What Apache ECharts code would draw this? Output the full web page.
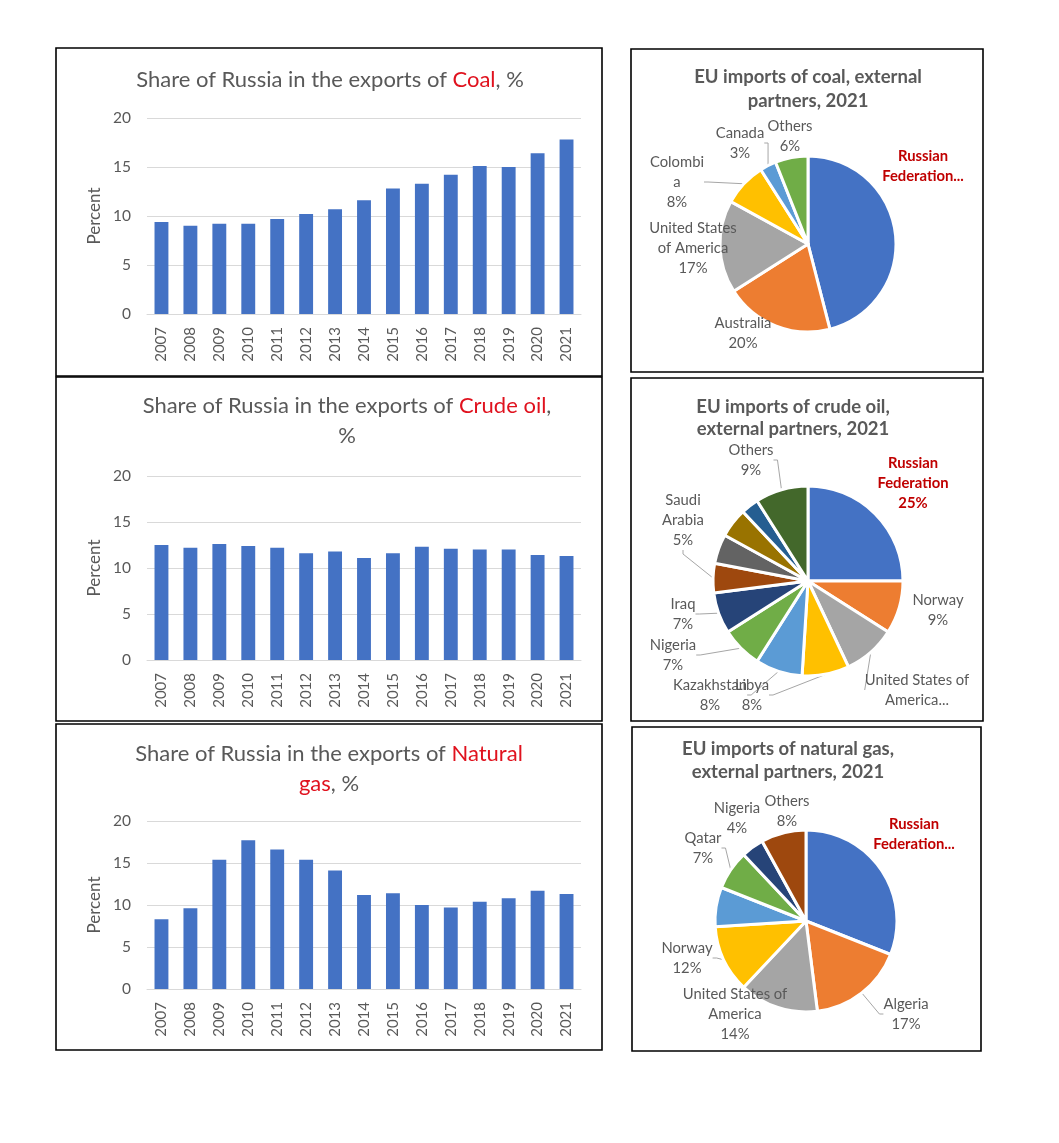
<!DOCTYPE html>
<html><head><meta charset="utf-8">
<script src="https://cdn.jsdelivr.net/npm/echarts@6/dist/echarts.min.js"></script>
<style>html,body{margin:0;padding:0;background:#fff}#c{width:1059px;height:1143px}</style>
</head><body><div id="c"></div>
<script>
// ---------- data ----------
const years = ['2007','2008','2009','2010','2011','2012','2013','2014','2015','2016','2017','2018','2019','2020','2021'];
const coalShare = [9.4, 9.0, 9.2, 9.2, 9.7, 10.2, 10.7, 11.6, 12.8, 13.3, 14.2, 15.1, 15.0, 16.4, 17.8];
const oilShare  = [12.5, 12.2, 12.6, 12.4, 12.2, 11.6, 11.8, 11.1, 11.6, 12.3, 12.1, 12.0, 12.0, 11.4, 11.3];
const gasShare  = [8.3, 9.6, 15.4, 17.7, 16.6, 15.4, 14.1, 11.2, 11.4, 10.0, 9.7, 10.4, 10.8, 11.7, 11.3];

const coalPartners = ['Russian Federation','Australia','United States of America','Colombia','Canada','Others'];
const coalImports  = [46, 20, 17, 8, 3, 6];
const coalLabelNames = ['Russian\nFederation...','Australia','United States\nof America','Colombi\na','Canada','Others'];

const oilPartners = ['Russian Federation','Norway','United States of America','Libya','Kazakhstan','Nigeria','Iraq','Saudi Arabia','Azerbaijan','United Kingdom','Algeria','Others'];
const oilImports  = [25, 9, 9, 8, 8, 7, 7, 5, 5, 5, 3, 9];
const oilLabelNames = ['Russian\nFederation','Norway','United States of\nAmerica...','Libya','Kazakhstan','Nigeria','Iraq','Saudi\nArabia','','','','Others'];

const gasPartners = ['Russian Federation','Algeria','United States of America','Norway','United Kingdom','Qatar','Nigeria','Others'];
const gasImports  = [31, 17, 14, 12, 7, 7, 4, 8];
const gasLabelNames = ['Russian\nFederation...','Algeria','United States of\nAmerica','Norway','','Qatar','Nigeria','Others'];

// ---------- styles / layout ----------
const FONT = 'Lato, "Open Sans", sans-serif';
const GREY = '#595959';
const officeColors = ['#4472C4','#ED7D31','#A5A5A5','#FFC000','#5B9BD5','#70AD47','#264478','#9E480E','#636363','#997300','#255E91','#43682B'];
const gasColors = ['#4472C4','#ED7D31','#A5A5A5','#FFC000','#5B9BD5','#70AD47','#264478','#9E480E'];

const barPanels = [
  {title:'{t|Share of Russia in the exports of }{r|Coal}{t|, %}', tx:330, ty:65, grid:{left:147, top:118, width:434, height:196}, data:coalShare},
  {title:'{t|Share of Russia in the exports of }{r|Crude oil}{t|,}\n{t|%}', tx:347, ty:391, grid:{left:147, top:476, width:434, height:184}, data:oilShare},
  {title:'{t|Share of Russia in the exports of }{r|Natural}\n{r|gas}{t|, %}', tx:329, ty:739, grid:{left:147, top:821, width:434, height:168}, data:gasShare}
];

const piePanels = [
  {title:'EU imports of coal, external\npartners, 2021', tx:808, ty:65, lh:24, center:[808,244], r:88,
   names:coalPartners, values:coalImports, labels:coalLabelNames, colors:officeColors, lines:[3,4],
   pos:[[923,166],[743,333],[693,248],[677,182],[740,143],[790,136]]},
  {title:'EU imports of crude oil,\nexternal partners, 2021', tx:793, ty:396, lh:22, center:[808,581], r:95,
   names:oilPartners, values:oilImports, labels:oilLabelNames, colors:officeColors, lines:[2,3,4,5,6,7,11],
   pos:[[913,483],[938,610],[917,690],[752,695],[710,695],[673,655],[683,614],[683,520],null,null,null,[751,460]]},
  {title:'EU imports of natural gas,\nexternal partners, 2021', tx:788, ty:738, lh:23, center:[806,921], r:91,
   names:gasPartners, values:gasImports, labels:gasLabelNames, colors:gasColors, lines:[1,3,5],
   pos:[[914,834],[906,1014],[735,1014],[687,958],null,[703,848],[737,818],[787,811]]}
];

const borders = [
  [56,48,546,328],[56,377,546,344],[56,724,546,326],
  [631,49,352,323],[631,378,352,343],[632,727,349,324]
];

// ---------- build option ----------
const option = {
  backgroundColor:'#fff',
  animation:false,
  textStyle:{fontFamily:FONT},
  title:[], grid:[], xAxis:[], yAxis:[], series:[],
  graphic: borders.map(b => ({type:'rect', shape:{x:b[0], y:b[1], width:b[2], height:b[3]}, style:{fill:null, stroke:'#000', lineWidth:1.6}, z:100}))
};

barPanels.forEach((p,i) => {
  option.title.push({
    text:p.title, left:p.tx, top:p.ty, textAlign:'center', padding:0,
    textStyle:{fontFamily:FONT, fontWeight:'normal', rich:{
      t:{fontSize:22, fontWeight:'normal', color:GREY, lineHeight:30, fontFamily:FONT},
      r:{fontSize:22, fontWeight:'normal', color:'#E0121E', lineHeight:30, fontFamily:FONT}
    }}
  });
  option.grid.push(p.grid);
  option.xAxis.push({type:'category', gridIndex:i, data:years,
    axisLine:{lineStyle:{color:'#D9D9D9'}}, axisTick:{show:false},
    axisLabel:{rotate:90, color:GREY, fontSize:15, margin:13, fontFamily:FONT}});
  option.yAxis.push({type:'value', gridIndex:i, min:0, max:20, interval:5,
    name:'Percent', nameLocation:'middle', nameGap:44,
    nameTextStyle:{color:GREY, fontSize:17, fontFamily:FONT},
    axisLine:{show:false}, axisTick:{show:false},
    axisLabel:{color:GREY, fontSize:15.5, margin:16, fontFamily:FONT},
    splitLine:{lineStyle:{color:'#D9D9D9'}}});
  option.series.push({type:'bar', xAxisIndex:i, yAxisIndex:i, data:p.data,
    barCategoryGap:'52%', itemStyle:{color:'#4472C4'}});
});

piePanels.forEach(p => {
  option.title.push({
    text:p.title, left:p.tx, top:p.ty, textAlign:'center', padding:0,
    textStyle:{fontFamily:FONT, fontSize:18.5, fontWeight:'bold', color:GREY, lineHeight:p.lh}
  });
  const data = p.names.map((n,k) => {
    const item = {name:n, value:p.values[k], itemStyle:{color:p.colors[k]}};
    if (!p.labels[k]) item.label = {show:false};
    if (k === 0) item.label = {color:'#C00000', fontWeight:'bold'};
    item.labelLine = {show: p.lines.indexOf(k) >= 0};
    return item;
  });
  const labels = p.labels, pos = p.pos;
  option.series.push({
    type:'pie', center:p.center, radius:p.r, startAngle:90, clockwise:true,
    avoidLabelOverlap:false,
    itemStyle:{borderColor:'#fff', borderWidth:3},
    label:{show:true, position:'outside', color:GREY, fontSize:14.8, lineHeight:20, fontFamily:FONT, align:'center',
      formatter: prm => {
        const t = labels[prm.dataIndex];
        if (!t) return '';
        return t.endsWith('...') ? t : t + '\n' + prm.value + '%';
      }},
    labelLine:{length:4, length2:4, lineStyle:{color:'#A6A6A6', width:1}},
    labelLayout: prm => {
      const q = pos[prm.dataIndex];
      if (!q) return {};
      return {x:q[0], y:q[1], align:'center', verticalAlign:'middle'};
    },
    emphasis:{disabled:true},
    data:data
  });
});

const chart = echarts.init(document.getElementById('c'), null, {renderer:'canvas'});
chart.setOption(option);
</script>
</body></html>
